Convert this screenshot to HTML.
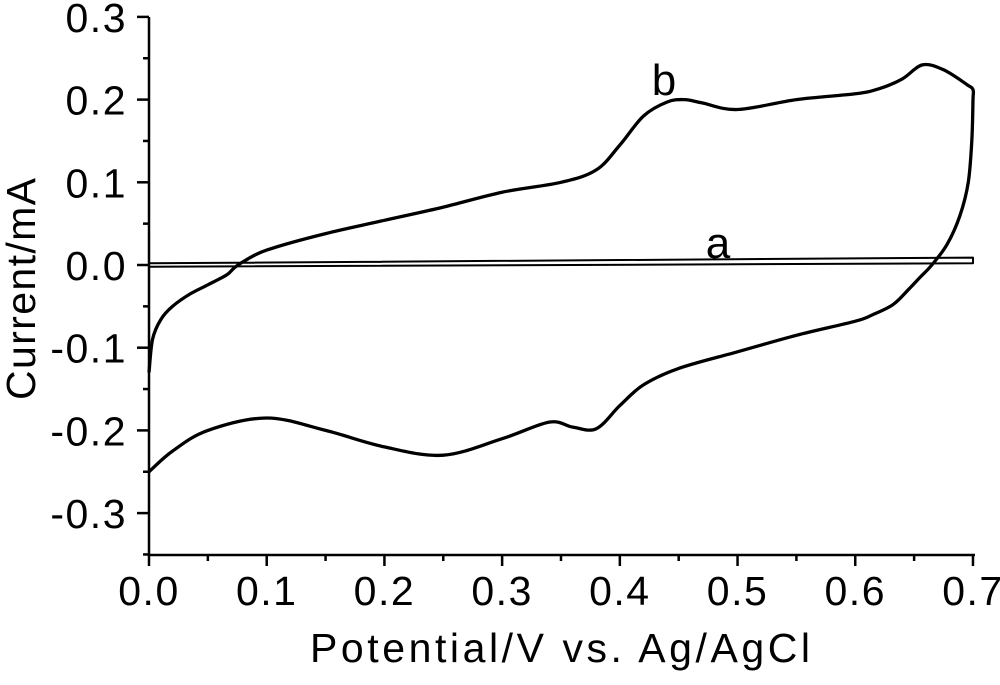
<!DOCTYPE html>
<html><head><meta charset="utf-8"><style>
body{margin:0;background:#fff}
svg text{font-family:"Liberation Sans",Arial,sans-serif;fill:#000}
.tk{font-size:41px;letter-spacing:1.5px}
.tt{font-size:41px}
.lb{font-size:44px}
</style></head><body>
<svg id="c" width="1000" height="680"></svg>
<script>
const xTicks=[0,0.1,0.2,0.3,0.4,0.5,0.6,0.7];
const xTickLabels=["0.0","0.1","0.2","0.3","0.4","0.5","0.6","0.7"];
const yTicks=[-0.3,-0.2,-0.1,0,0.1,0.2,0.3];
const yTickLabels=["-0.3","-0.2","-0.1","0.0","0.1","0.2","0.3"];
const bPotential=[0,0.003,0.01,0.02,0.035,0.05,0.066,0.072,0.08,0.1,0.15,0.2,0.25,0.3,0.35,0.38,0.4,0.42,0.44,0.455,0.47,0.5,0.55,0.6,0.62,0.64,0.657,0.675,0.695,0.7,
 0.7,0.699,0.696,0.689,0.678,0.665,0.655,0.645,0.632,0.615,0.6,0.55,0.5,0.45,0.42,0.4,0.38,0.36,0.34,0.3,0.25,0.2,0.15,0.1,0.05,0.02,0];
const bCurrent=[-0.13,-0.09,-0.066,-0.05,-0.035,-0.024,-0.012,-0.004,0.004,0.018,0.038,0.054,0.07,0.088,0.1,0.115,0.145,0.18,0.197,0.2,0.196,0.188,0.2,0.207,0.213,0.225,0.242,0.236,0.218,0.212,
 0.2,0.15,0.1,0.06,0.025,0.0,-0.015,-0.03,-0.048,-0.06,-0.068,-0.085,-0.105,-0.125,-0.145,-0.17,-0.198,-0.196,-0.19,-0.21,-0.23,-0.22,-0.2,-0.185,-0.2,-0.225,-0.25];
const aPotential=[0,0.7,0.7,0];
const aCurrent=[0.002,0.009,0.002,-0.002];
const X0=149,XS=1177.1,Y0=265,YS=827;
const sx=v=>X0+v*XS, sy=v=>Y0-v*YS;
const svg=document.getElementById('c');const NS='http://www.w3.org/2000/svg';
function el(t,a,p){const e=document.createElementNS(NS,t);for(const k in a)e.setAttribute(k,a[k]);(p||svg).appendChild(e);return e;}
const ax=el('path',{d:`M${X0},17V555H${sx(0.7)+2}`,stroke:'#000','stroke-width':2.5,fill:'none'});

xTicks.forEach((t,i)=>{
 el('line',{x1:sx(t),x2:sx(t),y1:555,y2:566,stroke:'#000','stroke-width':2.5});
 if(i<xTicks.length-1)el('line',{x1:sx(t+0.05),x2:sx(t+0.05),y1:555,y2:561,stroke:'#000','stroke-width':2.5});
 const tx=el('text',{x:sx(t),y:605,'class':'tk','text-anchor':'middle'});tx.textContent=xTickLabels[i];
 
});
el('line',{x1:X0,x2:X0-6,y1:sy(-0.35),y2:sy(-0.35),stroke:'#000','stroke-width':2.5});
yTicks.forEach((t,i)=>{
 el('line',{x1:X0,x2:X0-12,y1:sy(t),y2:sy(t),stroke:'#000','stroke-width':2.5});
 if(t<0.3)el('line',{x1:X0,x2:X0-6,y1:sy(t+0.05),y2:sy(t+0.05),stroke:'#000','stroke-width':2.5});
 const tx=el('text',{x:127,y:sy(t)+15,'class':'tk','text-anchor':'end'});tx.textContent=yTickLabels[i];
 
});
const xt=el('text',{x:310,y:662,'class':'tt',textLength:500,lengthAdjust:'spacing'});xt.textContent='Potential/V vs. Ag/AgCl';

const yt=el('text',{x:-400,y:0,'class':'tt',textLength:222,lengthAdjust:'spacing',transform:'translate(35,0) rotate(-90)'});yt.textContent='Current/mA';

function smooth(xs,ys){
 const p=xs.map((v,i)=>[sx(v),sy(ys[i])]);
 let d='M'+p[0][0].toFixed(1)+','+p[0][1].toFixed(1);
 for(let i=0;i<p.length-1;i++){
  const p0=p[Math.max(0,i-1)],p1=p[i],p2=p[i+1],p3=p[Math.min(p.length-1,i+2)];
  const c1=[p1[0]+(p2[0]-p0[0])/6,p1[1]+(p2[1]-p0[1])/6];
  const c2=[p2[0]-(p3[0]-p1[0])/6,p2[1]-(p3[1]-p1[1])/6];
  d+=`C${c1[0].toFixed(1)},${c1[1].toFixed(1)} ${c2[0].toFixed(1)},${c2[1].toFixed(1)} ${p2[0].toFixed(1)},${p2[1].toFixed(1)}`;
 }
 return d;
}
function pathFrom(xs,ys){return xs.map((v,i)=>(i?'L':'M')+sx(v).toFixed(1)+','+sy(ys[i]).toFixed(1)).join('');}
const pa=el('path',{d:pathFrom(aPotential,aCurrent)+'Z',stroke:'#000','stroke-width':2,fill:'none','stroke-linejoin':'round'});

const pb=el('path',{d:smooth(bPotential,bCurrent),stroke:'#000','stroke-width':3.3,fill:'none','stroke-linejoin':'round'});

const la=el('text',{x:718,y:258,'class':'lb','text-anchor':'middle'});la.textContent='a';

const lb=el('text',{x:664,y:95,'class':'lb','text-anchor':'middle'});lb.textContent='b';

</script>
</body></html>
